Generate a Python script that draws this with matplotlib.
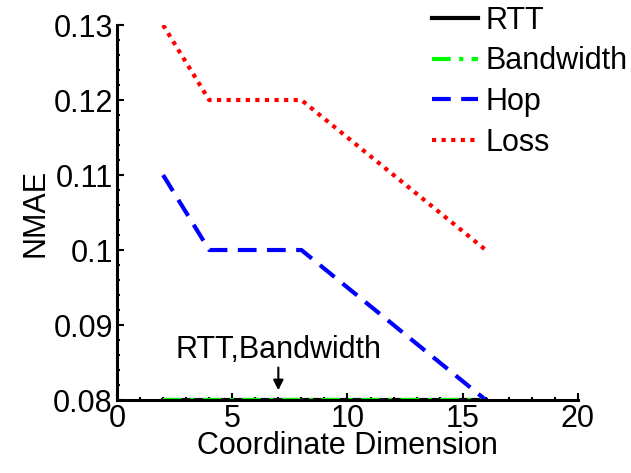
import matplotlib
matplotlib.use("Agg")
import matplotlib.pyplot as plt
from matplotlib.ticker import MultipleLocator

plt.rcParams['font.family'] = ['Liberation Sans', 'DejaVu Sans']

dims = [2, 4, 8, 16]
rtt = [0.08, 0.08, 0.08, 0.08]
bandwidth = [0.08, 0.08, 0.08, 0.08]
hop = [0.11, 0.10, 0.10, 0.08]
loss = [0.13, 0.12, 0.12, 0.10]

fig = plt.figure(figsize=(6.31, 4.73), dpi=100)
ax = fig.add_axes([0.1854, 0.1543, 0.7306, 0.7928])

lw = 3.0
ax.plot(dims, rtt, color='black', lw=lw, ls='-', label='RTT')
ax.plot(dims, bandwidth, color='#00ff00', lw=lw, ls=(0, (4.5, 2, 1, 2)), label='Bandwidth')
ax.plot(dims, hop, color='#0000ff', lw=lw, ls=(0, (4.5, 2.5)), label='Hop')
ax.plot(dims, loss, color='#ff0000', lw=lw, ls=(0, (1, 1.3)), label='Loss')

ax.set_xlim(0, 20)
ax.set_ylim(0.08, 0.13)
ax.set_xticks([0, 5, 10, 15, 20])
ax.set_xticklabels(['0', '5', '10', '15', '20'])
ax.set_yticks([0.08, 0.09, 0.10, 0.11, 0.12, 0.13])
ax.set_yticklabels(['0.08', '0.09', '0.1', '0.11', '0.12', '0.13'])
ax.xaxis.set_minor_locator(MultipleLocator(1))
ax.yaxis.set_minor_locator(MultipleLocator(0.002))
ax.tick_params(which='both', direction='in', labelsize=22, width=1.5, pad=3)
ax.tick_params(which='major', length=5)
ax.tick_params(which='minor', length=2.5)

for side in ('top', 'right'):
    ax.spines[side].set_visible(False)
for side in ('left', 'bottom'):
    ax.spines[side].set_linewidth(2.2)

ax.set_xlabel('Coordinate Dimension', fontsize=22, labelpad=-2)
ax.set_ylabel('NMAE', fontsize=22, labelpad=2)

ax.annotate('RTT,Bandwidth', xy=(7, 0.0813), xytext=(7, 0.0867),
            ha='center', va='center', fontsize=22,
            arrowprops=dict(arrowstyle='-|>', color='black', lw=1.5,
                            mutation_scale=15, shrinkA=0, shrinkB=0))

ax.legend(loc='upper left', bbox_to_anchor=(0.683, 1.052), frameon=False,
          fontsize=22, handlelength=1.5, handletextpad=0.26, labelspacing=0.35,
          borderaxespad=0, borderpad=0)

fig.savefig('out.png', dpi=100)
